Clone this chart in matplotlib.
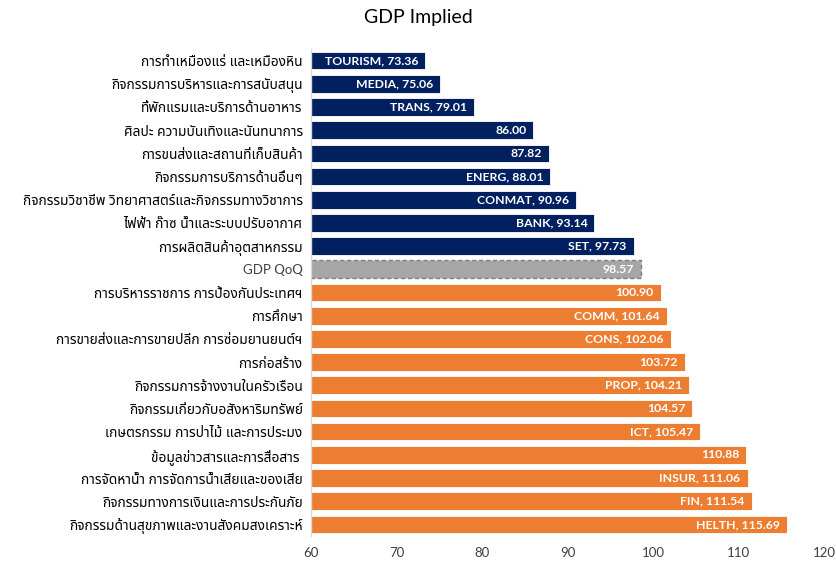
import matplotlib
matplotlib.use("Agg")
import matplotlib.pyplot as plt
from matplotlib import font_manager, ft2font
import numpy as np

sectors = [
    "การทำเหมืองแร่ และเหมืองหิน",
    "กิจกรรมการบริหารและการสนับสนุน",
    "ที่พักแรมและบริการด้านอาหาร",
    "ศิลปะ ความบันเทิงและนันทนาการ",
    "การขนส่งและสถานที่เก็บสินค้า",
    "กิจกรรมการบริการด้านอื่นๆ",
    "กิจกรรมวิชาชีพ วิทยาศาสตร์และกิจกรรมทางวิชาการ",
    "ไฟฟ้า ก๊าซ น้ำและระบบปรับอากาศ",
    "การผลิตสินค้าอุตสาหกรรม",
    "GDP QoQ",
    "การบริหารราชการ การป้องกันประเทศฯ",
    "การศึกษา",
    "การขายส่งและการขายปลีก การซ่อมยานยนต์ฯ",
    "การก่อสร้าง",
    "กิจกรรมการจ้างงานในครัวเรือน",
    "กิจกรรมเกี่ยวกับอสังหาริมทรัพย์",
    "เกษตรกรรม การป่าไม้ และการประมง",
    "ข้อมูลข่าวสารและการสื่อสาร ",
    "การจัดหาน้ำ การจัดการน้ำเสียและของเสีย",
    "กิจกรรมทางการเงินและการประกันภัย",
    "กิจกรรมด้านสุขภาพและงานสังคมสงเคราะห์",
]
tags = ["TOURISM", "MEDIA", "TRANS", "", "", "ENERG", "CONMAT", "BANK", "SET",
        "", "", "COMM", "CONS", "", "PROP", "", "ICT", "", "INSUR", "FIN", "HELTH"]
values = [73.36, 75.06, 79.01, 86.00, 87.82, 88.01, 90.96, 93.14, 97.73,
          98.57, 100.90, 101.64, 102.06, 103.72, 104.21, 104.57, 105.47,
          110.88, 111.06, 111.54, 115.69]
gdp_value = 98.57


def find_thai_font():
    preferred = ["Tahoma", "Noto Sans Thai", "Noto Sans Thai UI", "Loma",
                 "Garuda", "Sarabun", "Kinnari", "Norasi", "Waree", "Umpush"]
    found = {}
    for f in font_manager.fontManager.ttflist:
        try:
            cmap = ft2font.FT2Font(f.fname).get_charmap()
        except Exception:
            continue
        if 0x0E01 in cmap and 0x0E40 in cmap:
            found.setdefault(f.name, f.fname)
    for name in preferred:
        if name in found:
            return name
    if found:
        return sorted(found)[0]
    return "DejaVu Sans"


thai_font = find_thai_font()
plt.rcParams["font.family"] = ["Lato", thai_font, "DejaVu Sans"]

navy = "#002060"
orange = "#ED7D31"
grey = "#A6A6A6"

fig = plt.figure(figsize=(8.36, 5.62), dpi=100)
ax = fig.add_axes([311 / 836, 1 - 536 / 562, (824 - 311) / 836, (536 - 49) / 562])

y = np.arange(len(values))
colors = []
for v, name in zip(values, sectors):
    if name == "GDP QoQ":
        colors.append(grey)
    elif v < gdp_value:
        colors.append(navy)
    else:
        colors.append(orange)

bars = ax.barh(y, values, height=0.76, color=colors, edgecolor="white", linewidth=0.6)
gdp_idx = sectors.index("GDP QoQ")
bars[gdp_idx].set_edgecolor("#7F7F7F")
bars[gdp_idx].set_linestyle((0, (3, 2)))
bars[gdp_idx].set_linewidth(1.0)

for i, (v, t) in enumerate(zip(values, tags)):
    label = f"{t}, {v:.2f}" if t else f"{v:.2f}"
    ax.annotate(label, (v, i), xytext=(-5, 0), textcoords="offset points",
                ha="right", va="center", color="white", fontsize=8.8,
                fontweight="bold", family=["Lato", "DejaVu Sans"])

ax.set_xlim(60, 120)
ax.set_ylim(len(values) - 0.5, -0.5)
ax.set_xticks(np.arange(60, 121, 10))
ax.set_yticks(y)
ax.set_yticklabels(sectors)
for lbl in ax.get_yticklabels():
    if lbl.get_text() == "GDP QoQ":
        lbl.set_color("#404040")
        lbl.set_fontfamily(["Lato", "DejaVu Sans"])
        lbl.set_fontsize(9.5)
    else:
        lbl.set_fontfamily([thai_font, "DejaVu Sans"])
        lbl.set_fontsize(9.9)
        lbl.set_color("#000000")
ax.tick_params(axis="y", length=0, pad=6)
ax.tick_params(axis="x", length=0, pad=8, labelsize=9.5, labelcolor="#404040")

for s in ["top", "right", "bottom"]:
    ax.spines[s].set_visible(False)
ax.spines["left"].set_color("#D9D9D9")
ax.spines["left"].set_linewidth(1.0)

fig.text(0.5, 1 - 18 / 562, "GDP Implied", ha="center", va="center",
         fontsize=14, color="#000000", family=["Lato", "DejaVu Sans"])

fig.savefig("out.png", dpi=100)
